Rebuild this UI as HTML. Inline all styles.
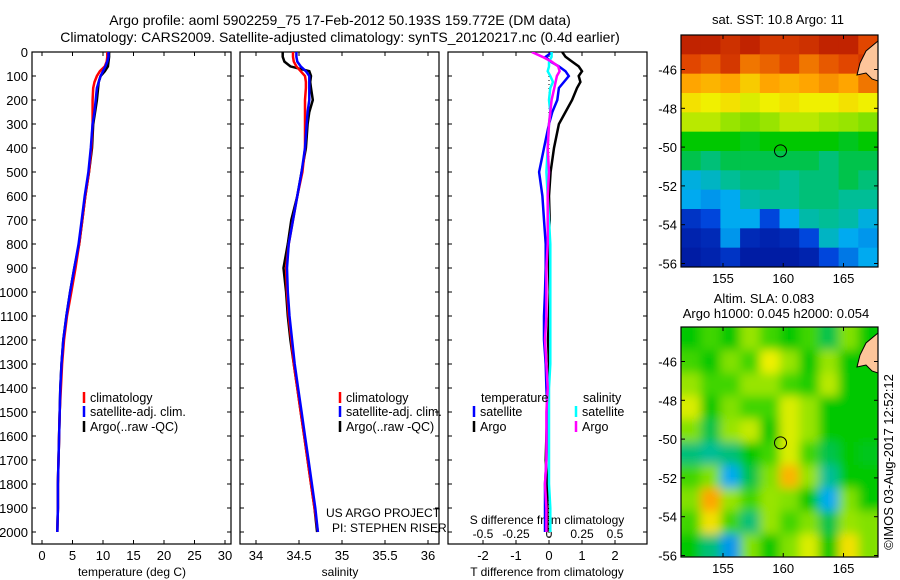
<!DOCTYPE html>
<html><head><meta charset="utf-8"><style>
body{margin:0;background:#fff}
svg{display:block;font-family:"Liberation Sans",sans-serif}
</style></head><body>
<svg id="fig" width="900" height="580" viewBox="0 0 900 580" xmlns="http://www.w3.org/2000/svg">
<defs>
<filter id="blur" x="0" y="0" width="1" height="1"><feGaussianBlur stdDeviation="5"/></filter>
<clipPath id="clipM1"><rect x="681" y="35" width="197" height="232"/></clipPath>
<clipPath id="clipM2"><rect x="681" y="327" width="197" height="230"/></clipPath>
<clipPath id="clipP1"><rect x="32" y="52" width="199" height="492"/></clipPath>
<clipPath id="clipP2"><rect x="240" y="52" width="199" height="492"/></clipPath>
<clipPath id="clipP3"><rect x="448" y="52" width="199" height="492"/></clipPath>
</defs>
<text x="340" y="25" font-size="14" text-anchor="middle">Argo profile: aoml 5902259_75 17-Feb-2012 50.193S 159.772E (DM data)</text>
<text x="340" y="42" font-size="14" text-anchor="middle">Climatology: CARS2009. Satellite-adjusted climatology: synTS_20120217.nc (0.4d earlier)</text>
<g id="g"></g>
</svg>
<script>
const depth=[0,20,40,60,80,100,125,150,200,250,300,400,500,600,700,800,900,1000,1100,1200,1300,1400,1500,1600,1700,1800,1900,2000];
const tempArgo=[11.0,11.0,10.9,10.8,10.3,9.6,9.3,9.2,9.0,8.7,8.4,8.2,7.7,7.1,6.6,6.1,5.3,4.6,4.0,3.5,3.2,3.0,2.9,2.8,2.7,2.6,2.6,2.5];
const tempClim=[10.7,10.7,10.6,10.3,9.5,9.0,8.6,8.4,8.3,8.3,8.3,8.1,7.7,7.1,6.6,6.1,5.5,4.8,4.1,3.6,3.3,3.1,2.9,2.8,2.7,2.6,2.6,2.5];
const tempSat=[10.9,10.9,10.7,10.4,10.0,9.6,9.3,9.0,8.8,8.6,8.3,8.0,7.6,7.0,6.5,6.0,5.3,4.6,4.0,3.5,3.2,3.0,2.9,2.8,2.7,2.6,2.6,2.5];
const salArgo=[34.31,34.31,34.33,34.4,34.62,34.64,34.63,34.64,34.66,34.62,34.6,34.58,34.53,34.48,34.41,34.37,34.32,34.35,34.37,34.40,34.44,34.48,34.52,34.56,34.60,34.64,34.68,34.71];
const salClim=[34.43,34.43,34.44,34.47,34.52,34.57,34.58,34.58,34.57,34.57,34.57,34.57,34.54,34.48,34.43,34.38,34.35,34.36,34.38,34.41,34.44,34.48,34.52,34.56,34.60,34.64,34.68,34.72];
const salSat=[34.47,34.47,34.48,34.52,34.58,34.62,34.62,34.62,34.62,34.60,34.59,34.57,34.53,34.48,34.43,34.38,34.36,34.37,34.39,34.42,34.45,34.49,34.53,34.57,34.61,34.65,34.69,34.72];
const tDiffArgo=[0.4,0.5,0.7,0.9,1.0,0.9,0.95,0.85,0.7,0.5,0.3,0.15,0.05,0.0,0.02,-0.02,0.0,0.02,0.0,-0.03,0.0,-0.05,-0.05,-0.08,-0.1,-0.05,-0.05,-0.05];
const tDiffSat=[0.1,-0.1,0.05,0.3,0.5,0.6,0.45,0.3,0.25,0.1,0.0,-0.15,-0.3,-0.2,-0.15,-0.1,-0.1,-0.12,-0.15,-0.15,-0.1,-0.08,-0.05,-0.05,-0.08,-0.12,-0.12,-0.12];
const sDiffArgo=[-0.13,-0.05,0.02,0.07,0.08,0.06,0.05,0.04,0.02,0.01,0.0,-0.01,0,-0.01,-0.01,-0.01,-0.02,-0.02,-0.02,-0.03,-0.02,-0.01,-0.02,-0.02,-0.02,-0.03,-0.02,-0.02];
const sDiffSat=[0.02,0.02,0.0,0.0,-0.01,0.01,0.03,0.01,0.0,0.01,0.0,-0.01,-0.02,-0.01,0.0,0.01,0.01,0.01,0.01,0.01,0.01,0.0,0.0,0.0,0,0,0.01,0.01];
const depthTicks=[0,100,200,300,400,500,600,700,800,900,1000,1100,1200,1300,1400,1500,1600,1700,1800,1900,2000];
const tempTicks=[0,5,10,15,20,25,30];
const salTicks=[34,34.5,35,35.5,36];
const salTickLabels=["34","34.5","35","35.5","36"];
const tDiffTicks=[-2,-1,0,1,2];
const sDiffTicks=[-0.5,-0.25,0,0.25,0.5];
const sDiffLabels=["-0.5","-0.25","0","0.25","0.5"];
const sstGrid=[
[.95,.95,.93,.95,.92,.92,.93,.95,.95,.9],
[.9,.88,.92,.85,.87,.9,.85,.88,.9,.92],
[.8,.78,.8,.75,.8,.78,.8,.82,.8,.85],
[.72,.7,.72,.68,.7,.72,.7,.7,.72,.7],
[.65,.65,.62,.6,.62,.65,.65,.63,.62,.6],
[.5,.5,.5,.48,.5,.5,.5,.5,.48,.5],
[.45,.42,.45,.45,.45,.45,.45,.42,.45,.45],
[.32,.35,.4,.42,.42,.4,.42,.42,.45,.42],
[.3,.28,.3,.38,.4,.4,.42,.42,.4,.4],
[.15,.2,.3,.3,.2,.3,.38,.4,.38,.32],
[.1,.12,.28,.12,.1,.12,.2,.35,.3,.28],
[.08,.1,.15,.08,.08,.08,.1,.2,.25,.3]];
const slaGrid=[
[.5,.55,.5,.62,.55,.5,.55,.45,.6,.5],
[.55,.5,.6,.55,.7,.62,.5,.62,.5,.5],
[.62,.55,.55,.62,.62,.55,.52,.65,.5,.5],
[.68,.5,.6,.55,.55,.68,.62,.5,.5,.5],
[.6,.45,.62,.66,.5,.68,.62,.5,.5,.5],
[.42,.4,.42,.5,.55,.68,.55,.45,.5,.48],
[.55,.6,.3,.45,.6,.78,.62,.4,.5,.5],
[.6,.8,.62,.55,.62,.6,.5,.3,.6,.5],
[.55,.72,.55,.42,.62,.55,.6,.45,.62,.6],
[.5,.42,.28,.6,.5,.6,.68,.5,.72,.6]];
const mapLonTicks=[155,160,165];
const mapLatTicks=[-46,-48,-50,-52,-54,-56];
const argoLon=159.772, argoLat=-50.193;

const NS="http://www.w3.org/2000/svg";
const G=document.getElementById('g');
function mk(tag,attrs,parent){const e=document.createElementNS(NS,tag);for(const k in attrs)e.setAttribute(k,attrs[k]);(parent||G).appendChild(e);return e;}
const yD=d=>52+d*0.24;
const xT=t=>42+t*6.1;
const xS=s=>256+(s-34)*86;
const xTd=v=>549+v*33;
const xSd=v=>549+v*132;

function panel(x0,name){
  const r=mk('rect',{x:x0,y:52,width:199,height:492,fill:'none',stroke:'#000','stroke-width':1.2});
  
  
}
panel(32,'temperature-panel');panel(240,'salinity-panel');panel(448,'difference-panel');

depthTicks.forEach(d=>{
  const t=mk('text',{x:28,y:yD(d)+5,'font-size':13,'text-anchor':'end'});t.textContent=d;
  
  
  [32,240,448].forEach(x0=>{mk('line',{x1:x0,x2:x0+4,y1:yD(d),y2:yD(d),stroke:'#000'});mk('line',{x1:x0+199,x2:x0+195,y1:yD(d),y2:yD(d),stroke:'#000'});});
});
function xticks(vals,labels,fx,lblY,name){
  vals.forEach((v,i)=>{const x=fx(v);
    mk('line',{x1:x,x2:x,y1:544,y2:540,stroke:'#000'});mk('line',{x1:x,x2:x,y1:52,y2:56,stroke:'#000'});
    const t=mk('text',{x:x,y:lblY,'font-size':13,'text-anchor':'middle'});t.textContent=labels[i];
    
    });
}
xticks(tempTicks,tempTicks.map(String),xT,560,'temperature-tick-label');
xticks(salTicks,salTickLabels,xS,560,'salinity-tick-label');
xticks(tDiffTicks,tDiffTicks.map(String),xTd,560,'t-diff-tick-label');
sDiffTicks.forEach((v,i)=>{const t=mk('text',{x:xSd(v),y:538,'font-size':12,'text-anchor':'middle'});t.textContent=sDiffLabels[i];
  
  });
function label(x,y,s,name,anchor,size){const t=mk('text',{x:x,y:y,'font-size':size||12,'text-anchor':anchor||'middle'});t.textContent=s;
  
  return t;}
label(132,576,'temperature (deg C)','temperature-axis-title');
label(340,576,'salinity','salinity-axis-title');
label(547,576,'T difference from climatology','t-diff-axis-title');
label(547,524,'S difference from climatology','s-diff-axis-title');
label(326,517,'US ARGO PROJECT','project-credit','start');
label(332,532,'PI: STEPHEN RISER','pi-credit','start');
const zl=mk('line',{x1:549,x2:549,y1:52,y2:544,stroke:'#000','stroke-dasharray':'1,3'});



function series(vals,fx,color,clip,name){
  const pts=vals.map((v,i)=>fx(v).toFixed(1)+','+yD(depth[i]).toFixed(1)).join(' ');
  const p=mk('polyline',{points:pts,fill:'none',stroke:color,'stroke-width':2.5,'clip-path':'url(#'+clip+')'});
  
  
}
series(tempArgo,xT,'#000','clipP1','temp-argo-line');
series(tempClim,xT,'#f00','clipP1','temp-climatology-line');
series(tempSat,xT,'#00f','clipP1','temp-satellite-line');
series(salArgo,xS,'#000','clipP2','sal-argo-line');
series(salClim,xS,'#f00','clipP2','sal-climatology-line');
series(salSat,xS,'#00f','clipP2','sal-satellite-line');
series(tDiffArgo,xTd,'#000','clipP3','t-diff-argo-line');
series(tDiffSat,xTd,'#00f','clipP3','t-diff-satellite-line');
series(sDiffSat,xSd,'#0ff','clipP3','s-diff-satellite-line');
series(sDiffArgo,xSd,'#f0f','clipP3','s-diff-argo-line');

function legendEntry(x,y,color,text){
  const l=mk('line',{x1:x,x2:x,y1:y-10,y2:y+1,stroke:color,'stroke-width':2.5});
  
  
  label(x+6,y,text,'legend-entry','start',12.5);
}
[84,340].forEach(x=>{legendEntry(x,402,'#f00','climatology');legendEntry(x,416,'#00f','satellite-adj. clim.');legendEntry(x,431,'#000','Argo(..raw -QC)');});
label(481,402,'temperature','legend-header-temperature','start',12.5);
label(583,402,'salinity','legend-header-salinity','start',12.5);
legendEntry(474,416,'#00f','satellite');legendEntry(474,431,'#000','Argo');
legendEntry(576,416,'#0ff','satellite');legendEntry(576,431,'#f0f','Argo');

const stops=[[0,[0,0,127]],[0.2,[0,70,220]],[0.3,[0,170,240]],[0.4,[0,190,150]],[0.5,[0,200,0]],[0.6,[130,225,0]],[0.7,[240,240,0]],[0.8,[255,165,0]],[0.9,[225,70,0]],[1,[160,0,0]]];
function cmap(v){for(let i=1;i<stops.length;i++){if(v<=stops[i][0]){const a=stops[i-1],b=stops[i];const f=(v-a[0])/(b[0]-a[0]);return 'rgb('+a[1].map((c,k)=>Math.round(c+(b[1][k]-c)*f)).join(',')+')';}}return 'rgb(160,0,0)';}
const lonX=lon=>723+(lon-155)*12.05;
function mapPanel(top,h,grid,clip,name,blur){
  const lat0=top+34.5;
  const latY=lat=>lat0+(-46-lat)*19.4;
  const g=mk('g',{'clip-path':'url(#'+clip+')'});
  
  
  const inner=mk('g',blur?{filter:'url(#blur)'}:{},g);
  const rows=grid.length,cols=grid[0].length,cw=197/cols,ch=h/rows;
  grid.forEach((row,r)=>row.forEach((v,c)=>{
    const cell=mk('rect',{x:681+c*cw-(blur?8:0)*(c==0),y:top+r*ch-(blur?8:0)*(r==0),width:cw+0.6+(blur?8:0)*(c==0||c==cols-1),height:ch+0.6+(blur?8:0)*(r==0||r==rows-1),fill:cmap(v)},inner);
    
    
  }));
  const land=mk('path',{d:'M878,'+(top+6)+' L866,'+(top+16)+' L860,'+(top+28)+' L857,'+(top+40)+' L866,'+(top+38)+' L872,'+(top+44)+' L878,'+(top+46)+' Z',fill:'#fdc59a',stroke:'#000','stroke-width':1},g);
  
  
  const box=mk('rect',{x:681,y:top,width:197,height:h,fill:'none',stroke:'#000','stroke-width':1.2});
  
  
  mapLatTicks.forEach(lat=>{const y=latY(lat);mk('line',{x1:681,x2:685,y1:y,y2:y,stroke:'#000'});mk('line',{x1:878,x2:874,y1:y,y2:y,stroke:'#000'});
    const t=mk('text',{x:677,y:y+5,'font-size':13,'text-anchor':'end'});t.textContent=lat;
    
    });
  mapLonTicks.forEach(lon=>{const x=lonX(lon);mk('line',{x1:x,x2:x,y1:top+h,y2:top+h-4,stroke:'#000'});mk('line',{x1:x,x2:x,y1:top,y2:top+4,stroke:'#000'});
    const t=mk('text',{x:x,y:top+h+16,'font-size':13,'text-anchor':'middle'});t.textContent=lon;
    
    });
  const m=mk('circle',{cx:lonX(argoLon),cy:latY(argoLat),r:6,fill:'none',stroke:'#000','stroke-width':1});
  
  
}
mapPanel(35,232,sstGrid,'clipM1','sst-map',false);
mapPanel(327,230,slaGrid,'clipM2','sla-map',true);
label(778,24,'sat. SST: 10.8 Argo: 11','sst-map-title','middle',13);
label(764,303,'Altim. SLA: 0.083','sla-map-title','middle',13);
label(776,318,'Argo h1000: 0.045 h2000: 0.054','argo-height-title','middle',13);
const d=label(0,0,'©IMOS 03-Aug-2017 12:52:12','timestamp','middle',13);
d.setAttribute('transform','translate(893,462) rotate(-90)');
</script>
</body></html>
